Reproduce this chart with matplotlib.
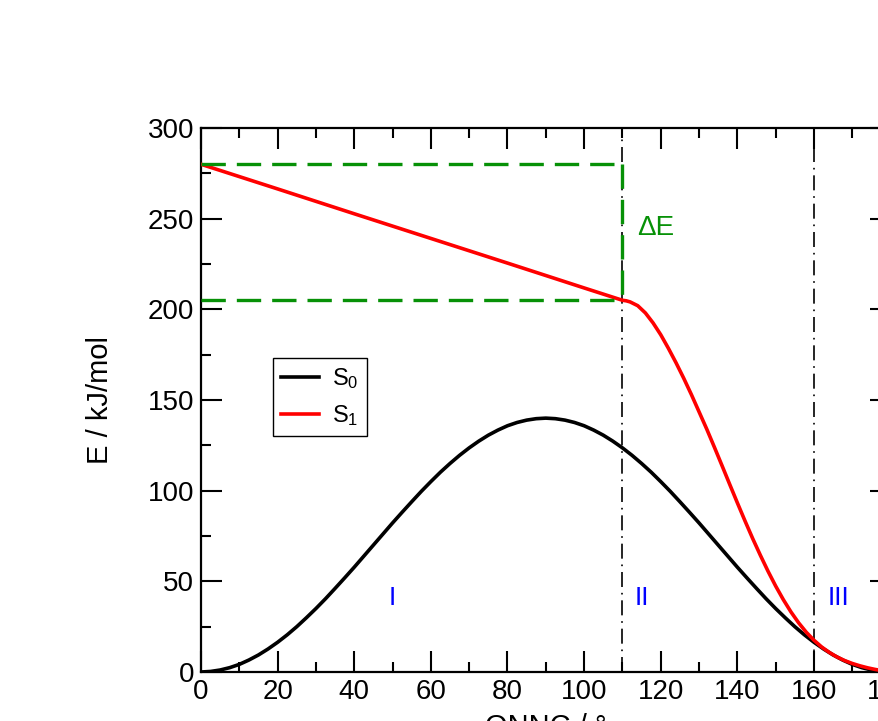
import matplotlib
matplotlib.use("Agg")
import matplotlib.pyplot as plt
from matplotlib.ticker import MultipleLocator

plt.rcParams['font.family'] = ['Liberation Sans', 'DejaVu Sans']
plt.rcParams['mathtext.fontset'] = 'custom'
plt.rcParams['mathtext.rm'] = 'Liberation Sans'
plt.rcParams['mathtext.it'] = 'Liberation Sans:italic'

# S0 ground state
s0_x = [0, 2.5, 5, 7.5, 10, 12.5, 15, 17.5, 20, 22.5, 25, 27.5, 30, 32.5, 35, 37.5, 40, 42.5,
        45, 47.5, 50, 52.5, 55, 57.5, 60, 62.5, 65, 67.5, 70, 72.5, 75, 77.5, 80, 82.5, 85,
        87.5, 90, 92.5, 95, 97.5, 100, 102.5, 105, 107.5, 110, 112.5, 115, 117.5, 120, 122.5,
        125, 127.5, 130, 132.5, 135, 137.5, 140, 142.5, 145, 147.5, 150, 152.5, 155, 157.5,
        160, 162.5, 165, 167.5, 170, 172.5, 175, 177.5, 180]
s0_y = [0, 0.3, 1.1, 2.4, 4.2, 6.6, 9.4, 12.7, 16.4, 20.5, 25.0, 29.9, 35.0, 40.4, 46.1, 51.9,
        57.8, 63.9, 70.0, 76.1, 82.2, 88.1, 93.9, 99.6, 105.0, 110.2, 115.0, 119.5, 123.6,
        127.3, 130.6, 133.4, 135.8, 137.6, 138.9, 139.7, 140.0, 139.7, 138.9, 137.6, 135.8,
        133.4, 130.6, 127.3, 123.6, 119.5, 115.0, 110.2, 105.0, 99.6, 93.9, 88.1, 82.2, 76.1,
        70.0, 63.9, 57.8, 51.9, 46.1, 40.4, 35.0, 29.9, 25.0, 20.5, 16.4, 12.7, 9.4, 6.6, 4.2,
        2.4, 1.1, 0.3, 0]

# S1 excited state
s1_x = [0, 20, 40, 60, 80, 100, 110, 111, 112, 114, 116, 118, 120, 122, 124, 126, 128, 130,
        132, 134, 136, 138, 140, 142, 144, 146, 148, 150, 152, 154, 156, 158, 160, 162, 164,
        166, 168, 170, 172, 174, 176, 178, 180]
s1_y = [280, 266.4, 252.7, 239.1, 225.5, 211.8, 205, 204.7, 204.1, 202, 198, 192.5, 186,
        178.5, 170.5, 162, 153, 143.5, 134, 124, 113.8, 103.5, 93.3, 83.3, 73.6, 64.4, 55.6,
        47.4, 39.9, 33.1, 27.1, 21.9, 17.5, 13.8, 10.8, 8.3, 6.3, 4.7, 3.4, 2.3, 1.4, 0.7, 0.2]

region_bounds = [110, 160]
region_labels = ["I", "II", "III"]
region_label_x = [50, 115, 166.5]
region_label_y = 41

de_top = 280
de_bottom = 205
de_x = 110

fig = plt.figure(figsize=(8.79, 7.21), dpi=100)
ax = fig.add_axes([201 / 879, 49 / 721, 689.6 / 879, 544 / 721])

ax.plot(s0_x, s0_y, color='black', lw=2.6, label=r'$\mathrm{S}_0$', zorder=3)
ax.plot(s1_x, s1_y, color='red', lw=2.6, label=r'$\mathrm{S}_1$', zorder=3)

for xb in region_bounds:
    ax.axvline(xb, color='black', lw=1.2, ls=(0, (9, 3.5, 1, 3.5)), zorder=2)

green = '#079107'
dash = (0, (7.3, 3.3))
ax.plot([0, de_x], [de_top, de_top], color=green, lw=2.4, ls=dash, zorder=4)
ax.plot([0, de_x], [de_bottom, de_bottom], color=green, lw=2.4, ls=dash, zorder=4)
ax.plot([de_x, de_x], [de_top, de_bottom], color=green, lw=2.4, ls=dash, zorder=4)
ax.text(de_x + 3.8, 245, 'ΔE', color=green, fontsize=20, va='center', ha='left')

for lx, lab in zip(region_label_x, region_labels):
    ax.text(lx, region_label_y, lab, color='blue', fontsize=19, ha='center', va='center')

ax.set_xlim(0, 180)
ax.set_ylim(0, 300)
ax.xaxis.set_major_locator(MultipleLocator(20))
ax.xaxis.set_minor_locator(MultipleLocator(10))
ax.yaxis.set_major_locator(MultipleLocator(50))
ax.yaxis.set_minor_locator(MultipleLocator(25))
ax.tick_params(which='both', direction='in', top=True, right=True, width=1.5, labelsize=20)
ax.tick_params(which='major', length=15, pad=5)
ax.tick_params(which='minor', length=7.5)
for sp in ax.spines.values():
    sp.set_linewidth(1.6)

ax.set_xlabel('ONNC / °', fontsize=21, labelpad=6)
ax.set_ylabel('E / kJ/mol', fontsize=21, labelpad=24)

leg = ax.legend(loc='upper left', bbox_to_anchor=(0.1044, 0.577), borderaxespad=0,
                fancybox=False, edgecolor='black', fontsize=17, handlelength=1.6,
                handletextpad=0.55, borderpad=0.35, labelspacing=0.5, framealpha=1)
leg.get_frame().set_linewidth(1.0)

fig.savefig('out.png', dpi=100)
